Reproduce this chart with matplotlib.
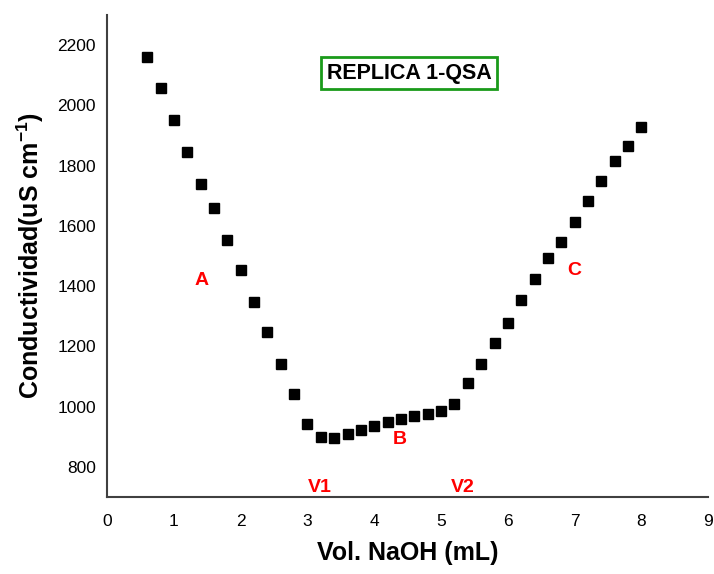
import matplotlib
matplotlib.use('Agg')
import matplotlib.pyplot as plt

plt.rcParams['font.family'] = ['Liberation Sans', 'DejaVu Sans']
plt.rcParams['mathtext.default'] = 'regular'

# Vol. NaOH (mL)
vol = [0.6, 0.8, 1.0, 1.2, 1.4, 1.6, 1.8, 2.0, 2.2, 2.4, 2.6, 2.8, 3.0,
       3.2, 3.4, 3.6, 3.8, 4.0, 4.2, 4.4, 4.6, 4.8, 5.0, 5.2, 5.4, 5.6,
       5.8, 6.0, 6.2, 6.4, 6.6, 6.8, 7.0, 7.2, 7.4, 7.6, 7.8, 8.0]
# Conductividad (uS cm-1)
cond = [2160, 2057, 1951, 1845, 1739, 1659, 1553, 1453, 1347, 1248, 1142, 1042, 943,
        899, 896, 909, 923, 936, 949, 959, 969, 976, 986, 1009, 1079, 1142,
        1211, 1278, 1354, 1424, 1493, 1546, 1613, 1682, 1749, 1815, 1865, 1928]

# region labels
labels = ['A', 'B', 'C', 'V1', 'V2']
label_x = [1.42, 4.38, 6.99, 3.19, 5.33]
label_y = [1420, 890, 1453, 733, 733]

fig = plt.figure(figsize=(7.14, 5.74), dpi=100)
ax = fig.add_axes([0.150, 0.134, 0.842, 0.840])

ax.plot(vol, cond, linestyle='none', marker='s', ms=7, color='black')

for lab, lx, ly in zip(labels, label_x, label_y):
    ax.text(lx, ly, lab, color='red', fontsize=14, fontweight='bold',
            ha='center', va='center')

ax.text(4.52, 2107, 'REPLICA 1-QSA', fontsize=15.5, fontweight='bold',
        ha='center', va='center',
        bbox=dict(boxstyle='square,pad=0.25', fc='white', ec='#1a9a1a', lw=2))

ax.set_xlim(0, 9)
ax.set_ylim(700, 2300)
ax.set_xticks(range(0, 10))
ax.set_yticks(range(800, 2201, 200))
ax.tick_params(length=0, labelsize=12.5, pad=12)
ax.tick_params(axis='y', pad=8)

for s in ['top', 'right']:
    ax.spines[s].set_visible(False)
for s in ['left', 'bottom']:
    ax.spines[s].set_color('#404040')
    ax.spines[s].set_linewidth(1.5)

ax.set_xlabel('Vol. NaOH (mL)', fontsize=18, fontweight='bold', labelpad=9)
ax.set_ylabel('Conductividad(uS cm$^{-1}$)', fontsize=18, fontweight='bold', labelpad=8)

plt.savefig('out.png', dpi=100)
